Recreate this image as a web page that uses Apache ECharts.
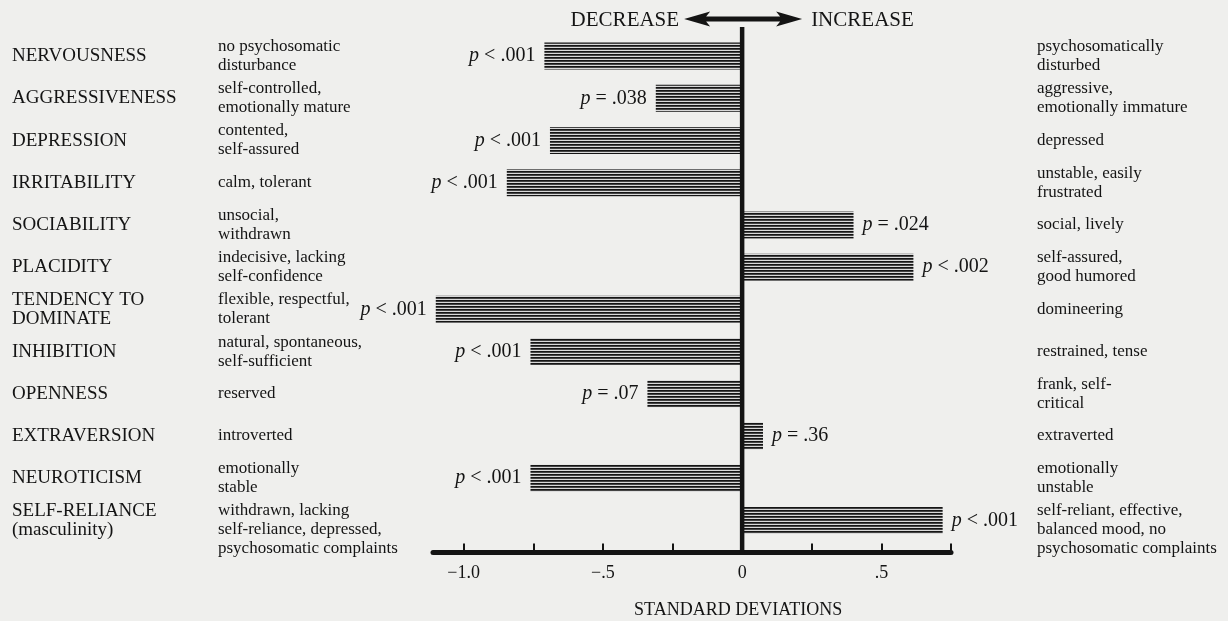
<!DOCTYPE html>
<html><head><meta charset="utf-8">
<script src="https://cdn.jsdelivr.net/npm/echarts@6/dist/echarts.min.js"></script>
<style>html,body{margin:0;padding:0;background:#efefed}#c{width:1228px;height:621px}</style>
</head><body><div id="c"></div>
<script>
const categories = ['NERVOUSNESS','AGGRESSIVENESS','DEPRESSION','IRRITABILITY','SOCIABILITY','PLACIDITY','TENDENCY TO\nDOMINATE','INHIBITION','OPENNESS','EXTRAVERSION','NEUROTICISM','SELF-RELIANCE\n(masculinity)'];
const leftDesc = ['no psychosomatic\ndisturbance','self-controlled,\nemotionally mature','contented,\nself-assured','calm, tolerant','unsocial,\nwithdrawn','indecisive, lacking\nself-confidence','flexible, respectful,\ntolerant','natural, spontaneous,\nself-sufficient','reserved','introverted','emotionally\nstable','withdrawn, lacking\nself-reliance, depressed,\npsychosomatic complaints'];
const rightDesc = ['psychosomatically\ndisturbed','aggressive,\nemotionally immature','depressed','unstable, easily\nfrustrated','social, lively','self-assured,\ngood humored','domineering','restrained, tense','frank, self-\ncritical','extraverted','emotionally\nunstable','self-reliant, effective,\nbalanced mood, no\npsychosomatic complaints'];
const values = [-0.71, -0.31, -0.69, -0.845, 0.40, 0.615, -1.10, -0.76, -0.34, 0.075, -0.76, 0.72];
const pOps = ['<','=','<','<','=','<','<','<','=','=','<','<'];
const pVals = ['.001','.038','.001','.001','.024','.002','.001','.001','.07','.36','.001','.001'];
const tickValues = [-1, -0.75, -0.5, -0.25, 0, 0.25, 0.5, 0.75];
const labelValues = [-1, -0.5, 0, 0.5];
const labelTexts = ['\u22121.0', '\u2212.5', '0', '.5'];

const FONT = '"Liberation Serif", "Times New Roman", serif';
const INK = '#141414';
const GRID = {left: 433, right: 277, top: 35, bottom: 79.5};
const X_OFFSET = 11;
// long (3-line) descriptor blocks sit slightly lower than their row in the original layout
const lowered = (t) => t.split('\n').length > 2 ? '\n' + t : t;

const stripe = document.createElement('canvas');
stripe.width = 8; stripe.height = 3;
const g = stripe.getContext('2d');
g.fillStyle = '#151515'; g.fillRect(0, 0, 8, 1);
g.fillStyle = '#444444'; g.fillRect(0, 1, 8, 1);
g.fillStyle = '#d8d8d8'; g.fillRect(0, 2, 8, 1);

const chart = echarts.init(document.getElementById('c'), null, {renderer: 'canvas'});
const yBase = {type: 'category', data: categories, inverse: true, axisLine: {show: false}, axisTick: {show: false}, splitLine: {show: false}};
const labelCommon = {align: 'left', interval: 0, hideOverlap: false, fontFamily: FONT, color: INK};
const descLabel = Object.assign({fontSize: 17, lineHeight: 19}, labelCommon);

chart.setOption({
  backgroundColor: '#efefed',
  animation: false,
  grid: Object.assign({containLabel: false}, GRID),
  xAxis: {
    type: 'value', min: -1.11, max: 0.75, offset: X_OFFSET,
    axisLine: {show: true, onZero: false, lineStyle: {color: INK, width: 5}},
    axisTick: {show: true, inside: true, length: 9, lineStyle: {color: INK, width: 2}, customValues: tickValues},
    axisLabel: {customValues: labelValues, formatter: v => labelTexts[labelValues.indexOf(v)], fontFamily: FONT, fontSize: 18, color: INK, margin: 12},
    splitLine: {show: false}
  },
  yAxis: [
    Object.assign({}, yBase, {position: 'left', axisLabel: Object.assign({margin: 421, fontSize: 19, lineHeight: 19}, labelCommon)}),
    Object.assign({}, yBase, {position: 'left', axisLabel: Object.assign({margin: 215, formatter: (v, i) => lowered(leftDesc[i])}, descLabel)}),
    Object.assign({}, yBase, {position: 'right', axisLabel: Object.assign({margin: 86, formatter: (v, i) => lowered(rightDesc[i])}, descLabel)})
  ],
  series: [{
    type: 'bar', xAxisIndex: 0, yAxisIndex: 0, barWidth: 27,
    data: values.map(v => ({value: v, label: {position: v < 0 ? 'left' : 'right'}})),
    itemStyle: {color: {image: stripe, repeat: 'repeat'}},
    label: {
      show: true, distance: 9, fontFamily: FONT, fontSize: 20, color: INK,
      formatter: p => '{i|p} ' + pOps[p.dataIndex] + ' ' + pVals[p.dataIndex],
      rich: {i: {fontStyle: 'italic', fontFamily: FONT, fontSize: 20, color: INK}}
    }
  }]
});

const x0 = chart.convertToPixel({xAxisIndex: 0}, 0);
const axisY = 621 - GRID.bottom + X_OFFSET;
const ay = 19, L = x0 - 58, R = x0 + 60, hl = 26, hh = 7.5, sh = 2.6;
chart.setOption({
  graphic: [
    {type: 'line', z: 100, shape: {x1: x0, y1: 27, x2: x0, y2: axisY}, style: {stroke: INK, lineWidth: 4.5}},
    {type: 'polygon', z: 100, shape: {points: [[L, ay], [L + hl, ay - hh], [L + hl - 4, ay - sh], [R - hl + 4, ay - sh], [R - hl, ay - hh], [R, ay], [R - hl, ay + hh], [R - hl + 4, ay + sh], [L + hl - 4, ay + sh], [L + hl, ay + hh]]}, style: {fill: INK}},
    {type: 'text', z: 100, x: x0 - 63, y: ay + 1, style: {text: 'DECREASE', align: 'right', verticalAlign: 'middle', font: '21px ' + FONT, fill: INK}},
    {type: 'text', z: 100, x: x0 + 69, y: ay + 1, style: {text: 'INCREASE', align: 'left', verticalAlign: 'middle', font: '21px ' + FONT, fill: INK}},
    {type: 'text', z: 100, x: x0 - 4, y: 610, style: {text: 'STANDARD DEVIATIONS', align: 'center', verticalAlign: 'middle', font: '18px ' + FONT, fill: INK}}
  ]
});
</script></body></html>
